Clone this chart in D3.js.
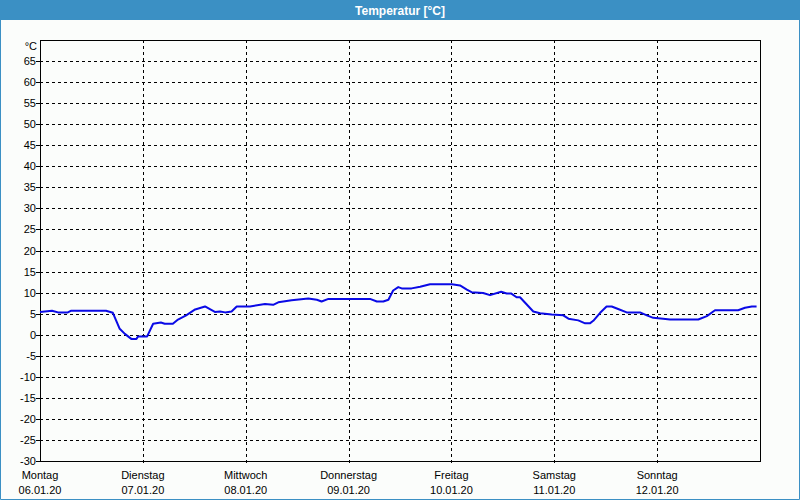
<!DOCTYPE html>
<html>
<head>
<meta charset="utf-8">
<script src="https://cdn.jsdelivr.net/npm/d3@7"></script>
<style>
  body { margin: 0; background: #fbfdfb; }
  text { font-family: "Liberation Sans", Arial, sans-serif; }
</style>
</head>
<body>
<div id="chart"></div>
<script>
// days shown on the x axis
const dayNames = ["Montag", "Dienstag", "Mittwoch", "Donnerstag", "Freitag", "Samstag", "Sonntag"];
const dayDates = ["06.01.20", "07.01.20", "08.01.20", "09.01.20", "10.01.20", "11.01.20", "12.01.20"];

// hours since Monday 06.01.20 00:00
const hours = [0, 2.8, 4.2, 6.5, 7.3, 15.4, 17.0, 18.6, 19.8, 21.3, 22.5, 22.9, 25.0, 26.4, 28.2, 29.1,
  31.0, 32.2, 34.1, 36.2, 38.5, 40.8, 42.0, 43.2, 44.7, 45.9, 49.0, 52.5, 54.4, 55.6, 58.7, 62.6,
  64.6, 65.7, 67.3, 68.8, 77.0, 78.6, 80.1, 81.3, 82.4, 83.6, 84.4, 86.7, 88.7, 91.0, 96.1, 98.0,
  99.6, 100.7, 103.4, 105.0, 107.6, 108.9, 109.9, 111.2, 112.0, 115.1, 116.7, 119.4, 122.1, 123.3,
  125.6, 127.2, 128.3, 129.1, 130.7, 132.2, 133.4, 134.9, 136.9, 140.0, 141.6, 143.1, 145.4, 147.0,
  153.6, 155.6, 157.5, 162.9, 164.5, 166.1, 167.2];

// temperature in °C
const temps = [5.4, 5.7, 5.3, 5.3, 5.7, 5.7, 5.2, 1.4, 0.2, -1.0, -1.0, -0.4, -0.4, 2.6, 2.9, 2.6,
  2.6, 3.6, 4.6, 6.0, 6.7, 5.4, 5.5, 5.3, 5.5, 6.7, 6.7, 7.3, 7.1, 7.7, 8.2, 8.6,
  8.3, 7.9, 8.5, 8.5, 8.5, 7.9, 7.9, 8.3, 10.5, 11.3, 11.0, 11.0, 11.4, 12.0, 12.0, 11.7,
  10.7, 10.1, 9.9, 9.4, 10.2, 9.8, 9.8, 8.9, 8.9, 5.5, 5.1, 4.8, 4.6, 3.8,
  3.4, 2.7, 2.7, 3.3, 5.2, 6.7, 6.7, 6.1, 5.3, 5.3, 4.6, 4.0, 3.8, 3.6,
  3.6, 4.4, 5.8, 5.8, 6.4, 6.7, 6.7];

// y tick values
const yTicks = d3.range(-30, 70, 5);

const start = new Date(2020, 0, 6);
const end = new Date(2020, 0, 13);

const width = 800, height = 500;
const plot = { left: 40, right: 760, top: 40, bottom: 461 };

const svg = d3.select("#chart").append("svg")
    .attr("width", width)
    .attr("height", height);

svg.append("rect")
    .attr("width", width)
    .attr("height", height)
    .attr("fill", "#fbfdfb");

// title bar
svg.append("rect")
    .attr("width", width)
    .attr("height", 20)
    .attr("fill", "#3b90c4");

svg.append("text")
    .attr("x", width / 2)
    .attr("y", 15)
    .attr("text-anchor", "middle")
    .attr("fill", "white")
    .attr("font-weight", "bold")
    .attr("font-size", 12)
    .text("Temperatur [°C]");

// frame around the window
svg.append("path")
    .attr("d", "M0.5,20V499.5H799.5V20")
    .attr("fill", "none")
    .attr("stroke", "#3b90c4");

const x = d3.scaleTime().domain([start, end]).range([plot.left, plot.right]);
const y = d3.scaleLinear().domain([-30, 70]).range([plot.bottom, plot.top]);

const data = hours.map((h, i) => ({
    date: new Date(start.getTime() + h * 3600 * 1000),
    value: temps[i]
}));

const dayTicks = d3.timeDay.range(start, end);

// horizontal grid
svg.append("g").selectAll("line")
    .data(yTicks.filter(d => d > -30))
    .join("line")
    .attr("x1", plot.left)
    .attr("x2", plot.right)
    .attr("y1", d => Math.round(y(d)) + 0.5)
    .attr("y2", d => Math.round(y(d)) + 0.5)
    .attr("stroke", "black")
    .attr("stroke-dasharray", "3,3");

// vertical grid (days), reaching a bit below the axis
svg.append("g").selectAll("line")
    .data(dayTicks.slice(1))
    .join("line")
    .attr("x1", d => Math.round(x(d)) + 0.5)
    .attr("x2", d => Math.round(x(d)) + 0.5)
    .attr("y1", plot.top)
    .attr("y2", plot.bottom + 5)
    .attr("stroke", "black")
    .attr("stroke-dasharray", "3,3");

// plot frame
svg.append("rect")
    .attr("x", plot.left + 0.5)
    .attr("y", plot.top + 0.5)
    .attr("width", plot.right - plot.left)
    .attr("height", plot.bottom - plot.top)
    .attr("fill", "none")
    .attr("stroke", "black");

// y axis ticks and labels
const yAxis = svg.append("g").selectAll("g")
    .data(yTicks)
    .join("g")
    .attr("transform", d => "translate(0," + (Math.round(y(d)) + 0.5) + ")");

yAxis.append("line")
    .attr("x1", 36)
    .attr("x2", plot.left)
    .attr("stroke", "black");

yAxis.append("text")
    .attr("x", 36)
    .attr("dy", "0.35em")
    .attr("text-anchor", "end")
    .attr("font-size", 11)
    .text(d => d);

svg.append("text")
    .attr("x", 37)
    .attr("y", 50)
    .attr("text-anchor", "end")
    .attr("font-size", 11)
    .text("°C");

// x axis labels
const xLabels = svg.append("g").selectAll("g")
    .data(dayTicks)
    .join("g")
    .attr("transform", d => "translate(" + x(d) + ",0)");

xLabels.append("text")
    .attr("y", 479)
    .attr("text-anchor", "middle")
    .attr("font-size", 11)
    .text((d, i) => dayNames[i]);

xLabels.append("text")
    .attr("y", 494)
    .attr("text-anchor", "middle")
    .attr("font-size", 11)
    .text((d, i) => dayDates[i]);

// temperature line
const line = d3.line()
    .x(d => x(d.date))
    .y(d => y(d.value));

svg.append("path")
    .datum(data)
    .attr("d", line)
    .attr("fill", "none")
    .attr("stroke", "#0a0ae6")
    .attr("stroke-width", 2)
    .attr("stroke-linejoin", "round");
</script>
</body>
</html>
